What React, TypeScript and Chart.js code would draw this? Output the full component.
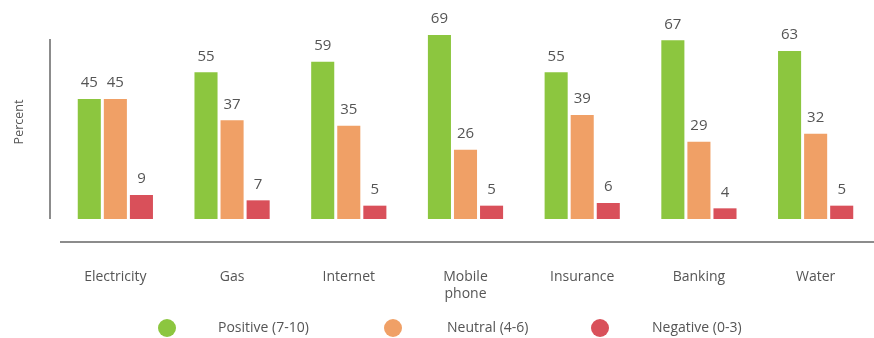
import React, { useEffect, useRef } from "react";
import { Chart, registerables } from "chart.js";

Chart.register(...registerables);

const categories: (string | string[])[] = [
  "Electricity",
  "Gas",
  "Internet",
  ["Mobile", "phone"],
  "Insurance",
  "Banking",
  "Water",
];
const positive = [45, 55, 59, 69, 55, 67, 63];
const neutral = [45, 37, 35, 26, 39, 29, 32];
const negative = [9, 7, 5, 5, 6, 4, 5];
const seriesNames = ["Positive (7-10)", "Neutral (4-6)", "Negative (0-3)"];
const seriesColors = ["#8cc63f", "#f0a066", "#d9505a"];

const FONT = "'Open Sans', sans-serif";
const TEXT = "#555555";

const decorPlugin = {
  id: "decor",
  afterDatasetsDraw(chart: any) {
    const ctx = chart.ctx;
    const area = chart.chartArea;
    ctx.save();
    // y axis line
    ctx.strokeStyle = "#666";
    ctx.lineWidth = 1.5;
    ctx.beginPath();
    ctx.moveTo(50, 39);
    ctx.lineTo(50, area.bottom);
    ctx.stroke();
    // horizontal line
    ctx.beginPath();
    ctx.moveTo(60, area.bottom + 23);
    ctx.lineTo(874, area.bottom + 23);
    ctx.stroke();
    // y title
    ctx.fillStyle = TEXT;
    ctx.font = `12.5px ${FONT}`;
    ctx.textAlign = "center";
    ctx.textBaseline = "middle";
    ctx.save();
    ctx.translate(19, 122);
    ctx.rotate(-Math.PI / 2);
    ctx.fillText("Percent", 0, 0);
    ctx.restore();
    // data labels
    ctx.font = `15px ${FONT}`;
    ctx.textBaseline = "middle";
    chart.data.datasets.forEach((ds: any, i: number) => {
      const meta = chart.getDatasetMeta(i);
      meta.data.forEach((bar: any, j: number) => {
        ctx.fillText(String(ds.data[j]), bar.x, bar.y - 16);
      });
    });
    // legend
    const circleX = [167, 393, 600];
    const textX = [218, 447, 652];
    ctx.font = `14px ${FONT}`;
    ctx.textAlign = "left";
    seriesNames.forEach((name, i) => {
      ctx.fillStyle = seriesColors[i];
      ctx.beginPath();
      ctx.arc(circleX[i], 328, 9, 0, Math.PI * 2);
      ctx.fill();
      ctx.fillStyle = TEXT;
      ctx.fillText(name, textX[i], 328);
    });
    ctx.restore();
  },
};

export default function App() {
  const ref = useRef<HTMLCanvasElement>(null);
  useEffect(() => {
    if (!ref.current) return;
    const chart = new Chart(ref.current, {
      type: "bar",
      data: {
        labels: categories as any,
        datasets: [positive, neutral, negative].map((d, i) => ({
          label: seriesNames[i],
          data: d,
          backgroundColor: seriesColors[i],
          categoryPercentage: 0.67,
          barPercentage: 0.885,
        })),
      },
      options: {
        responsive: false,
        animation: false,
        events: [],
        layout: { padding: { left: 57, right: 0, top: 19, bottom: 0 } },
        plugins: { legend: { display: false }, tooltip: { enabled: false } },
        scales: {
          x: {
            grid: { display: false, drawTicks: true, tickLength: 50 },
            border: { display: false },
            ticks: {
              color: TEXT,
              padding: 0,
              font: { family: FONT, size: 14, lineHeight: 1.2 },
              maxRotation: 0,
              autoSkip: false,
            },
            afterFit: (scale: any) => {
              scale.height = 119;
            },
          },
          y: {
            display: false,
            min: 0,
            max: 75,
          },
        },
      },
      plugins: [decorPlugin],
    });
    return () => chart.destroy();
  }, []);
  return (
    <div style={{ position: "absolute", left: 0, top: 0, width: 874, height: 338, background: "#fff" }}>
      <canvas ref={ref} width={874} height={338} />
    </div>
  );
}
